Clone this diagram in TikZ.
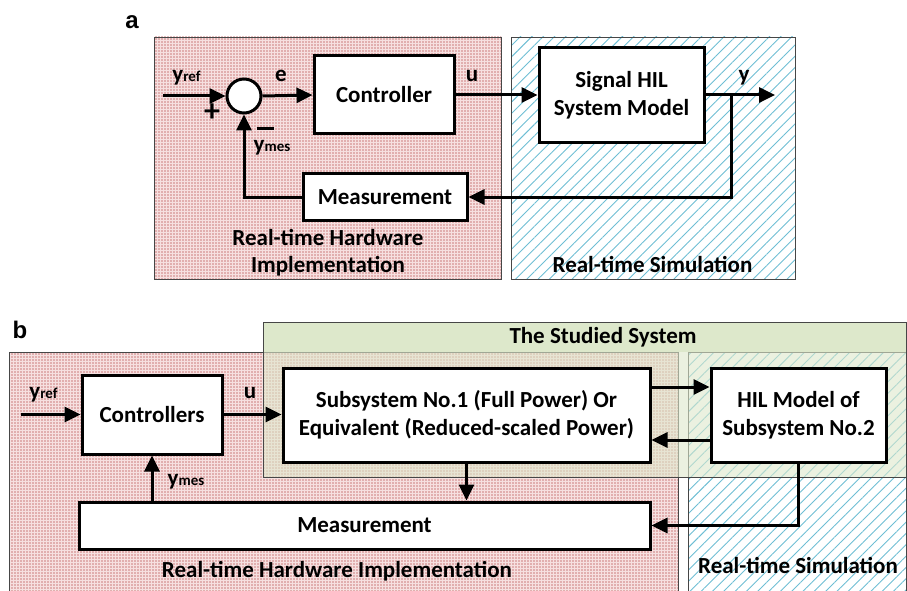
\documentclass[tikz,border=0pt]{standalone}
\usepackage{fontspec}
\setmainfont{Carlito}
\newfontfamily\arialfont{Liberation Sans}
\usetikzlibrary{arrows.meta,patterns.meta}
\definecolor{dotred}{RGB}{205,125,125}
\definecolor{hatchblue}{RGB}{110,190,212}
\definecolor{studgreen}{RGB}{221,232,203}
\definecolor{regborder}{RGB}{70,70,70}
\newcommand\ysub[1]{y{\fontsize{15}{15}\selectfont #1}}
\tikzset{
  blk/.style={draw, line width=3pt, fill=white, align=center, inner sep=0pt,
    font=\bfseries\fontsize{23}{28}\selectfont},
  sumnode/.style={draw, circle, line width=3pt, fill=white, minimum size=34pt, inner sep=0pt},
  arr/.style={line width=3pt, -{Triangle[length=16pt,width=15pt]}},
  lbl/.style={font=\bfseries\fontsize{23}{26}\selectfont, inner sep=0pt, anchor=base},
  redfill/.style={fill={rgb,255:red,246;green,224;blue,224}},
  reddots/.style={pattern={Dots[distance=3pt,radius=0.85pt]}, pattern color=dotred},
  bluelines/.style={pattern={Lines[angle=45,distance=8pt,line width=0.9pt]}, pattern color=hatchblue},
  regline/.style={draw=regborder, line width=0.8pt},
}
\begin{document}
\begin{tikzpicture}[x=1pt,y=-1pt]
\useasboundingbox (0,0) rectangle (907,591);
% ---------------- part a ----------------
\node[font=\arialfont\bfseries\fontsize{24}{24}\selectfont, inner sep=0pt, anchor=base] (la) at (132,29) {a};
\path[redfill] (154,37) rectangle (501,279);
\path[reddots] (154,37) rectangle (501,279);
\path[regline] (154,37) rectangle (501,279);
\path[bluelines] (511,37) rectangle (795,279);
\path[regline] (511,37) rectangle (795,279);

\node[sumnode] (sum) at (244,96) {};
\coordinate (yin) at (163,96);
\node[blk, minimum width=140pt, minimum height=78pt] (ctrl) at (384,95) {Controller};
\node[blk, minimum width=165pt, minimum height=94pt] (hil) at (621.5,95) {Signal HIL\\System Model};
\coordinate (yout) at (775,95);
\coordinate (br) at (731,95);
\node[blk, minimum width=164pt, minimum height=47pt] (meas) at (385,197) {Measurement};

\draw[arr] (yin) -- (sum.west);
\draw[arr] (sum.east) -- (ctrl.west);
\draw[arr] (ctrl.east) -- (hil.west);
\draw[arr] (hil.east) -- (yout);
\draw[arr] (br) |- (meas.east);
\draw[arr] (meas.west) -| (sum.south);

\node[lbl] (lyref) at (186.5,82) {\ysub{ref}};
\node[lbl] (le) at (281,82) {e};
\node[lbl] (lu) at (472,82) {u};
\node[lbl] (ly) at (744,82) {y};
\node[lbl] (lymes) at (272,151) {\ysub{mes}};
\node[lbl, anchor=center, font=\bfseries\fontsize{32}{32}\selectfont] (lplus) at (212,113) {+};
\node[lbl, anchor=center] (lminus) at (265,128) {\rule{17pt}{3pt}};
\node[lbl] (lrh1) at (328,245) {Real-time Hardware};
\node[lbl] (lrh2) at (328,272) {Implementation};
\node[lbl] (lrs) at (652.5,272) {Real-time Simulation};

% ---------------- part b ----------------
\node[font=\arialfont\bfseries\fontsize{24}{24}\selectfont, inner sep=0pt, anchor=base] (lb) at (20,338) {b};
\fill[studgreen] (263,322) rectangle (906,352);
\path[redfill] (9,352) rectangle (678,591);
\path[reddots] (9,352) rectangle (678,591);
\draw[regline] (9,591) -- (9,352) -- (678,352) -- (678,591);
\path[bluelines] (688,352) rectangle (906,591);
\draw[regline] (688,591) -- (688,352) -- (906,352) -- (906,591);
\fill[studgreen, fill opacity=0.6] (263,352) rectangle (906,477);
\draw[regline] (263,322) rectangle (906,477);
\node[lbl] (lstud) at (603,343) {The Studied System};

\node[blk, minimum width=140pt, minimum height=79pt] (ctrlb) at (152,414.5) {Controllers};
\node[blk, minimum width=367pt, minimum height=94pt] (sub) at (466.5,415) {Subsystem No.1 (Full Power) Or\\Equivalent (Reduced-scaled Power)};
\node[blk, minimum width=175pt, minimum height=94pt] (hilb) at (798.5,415) {HIL Model of\\Subsystem No.2};
\node[blk, minimum width=571pt, minimum height=47pt] (measb) at (364.5,525.5) {Measurement};
\coordinate (yinb) at (21,414.5);

\draw[arr] (yinb) -- (ctrlb.west);
\draw[arr] (ctrlb.east) -- (sub.west |- ctrlb.east);
\draw[arr] (sub.east |- 0,387) -- (hilb.west |- 0,387);
\draw[arr] (hilb.west |- 0,440) -- (sub.east |- 0,440);
\draw[arr] (sub.south) -- (measb.north -| sub.south);
\draw[arr] (hilb.south) |- (measb.east);
\draw[arr] (measb.north -| ctrlb.south) -- (ctrlb.south);

\node[lbl] (lyrefb) at (43.5,398) {\ysub{ref}};
\node[lbl] (lub) at (250,398) {u};
\node[lbl] (lymesb) at (186,485) {\ysub{mes}};
\node[lbl] (lrhb) at (337,577) {Real-time Hardware Implementation};
\node[lbl] (lrsb) at (798,573) {Real-time Simulation};
\end{tikzpicture}
\end{document}
